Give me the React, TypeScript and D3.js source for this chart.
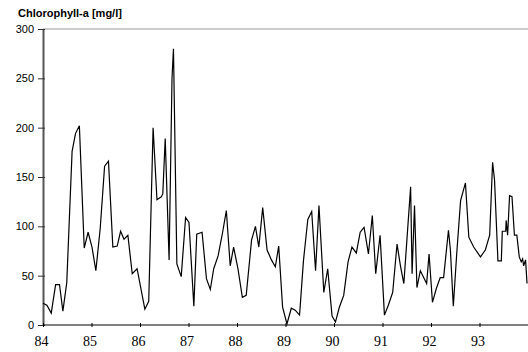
import React, { useRef, useEffect } from "react";
import * as d3 from "d3";

// time in decimal years (84 = 1984)
const years = [
  84.0, 84.08, 84.17, 84.26, 84.34, 84.41, 84.49, 84.6, 84.67, 84.75,
  84.85, 84.93, 85.01, 85.09, 85.18, 85.27, 85.35, 85.44, 85.53, 85.6,
  85.67, 85.75, 85.84, 85.94, 86.1, 86.18, 86.27, 86.35, 86.44, 86.47,
  86.52, 86.6, 86.66, 86.69, 86.76, 86.85, 86.94, 87.01, 87.11, 87.17,
  87.28, 87.37, 87.45, 87.52, 87.61, 87.7, 87.78, 87.86, 87.93, 88.02,
  88.11, 88.19, 88.3, 88.38, 88.45, 88.53, 88.62, 88.71, 88.79, 88.86,
  88.94, 89.03, 89.12, 89.2, 89.29, 89.37, 89.46, 89.54, 89.62, 89.69,
  89.79, 89.87, 89.96, 90.03, 90.11, 90.2, 90.29, 90.37, 90.46, 90.54,
  90.62, 90.71, 90.79, 90.86, 90.95, 91.04, 91.12, 91.21, 91.3, 91.37,
  91.44, 91.5, 91.58, 91.61, 91.66, 91.71, 91.78, 91.91, 91.96, 92.03,
  92.11, 92.19, 92.26, 92.36, 92.4, 92.46, 92.53, 92.61, 92.71, 92.78,
  92.88, 93.02, 93.12, 93.21, 93.27, 93.31, 93.38, 93.45, 93.47, 93.54,
  93.55, 93.58, 93.62, 93.67, 93.72, 93.77, 93.82, 93.86, 93.89, 93.91,
  93.95, 93.98,
];

const chlorophyll = [
  22, 20, 12, 41, 41, 14, 43, 176, 194, 202,
  78, 94, 79, 55, 98, 161, 166, 79, 80, 95,
  87, 91, 52, 57, 16, 24, 200, 127, 130, 133,
  189, 66, 250, 280, 62, 49, 109, 104, 19, 92,
  94, 47, 36, 57, 70, 93, 116, 60, 79, 57,
  28, 30, 86, 100, 79, 119, 76, 66, 59, 80,
  18, 1, 17, 15, 10, 65, 107, 115, 55, 121,
  33, 57, 9, 3, 18, 30, 64, 79, 73, 94,
  99, 72, 111, 52, 91, 10, 20, 33, 82, 60,
  42, 84, 140, 52, 121, 38, 55, 42, 72, 23,
  37, 48, 48, 96, 76, 19, 72, 126, 144, 89,
  79, 69, 76, 91, 165, 147, 65, 65, 95, 95,
  106, 91, 131, 130, 91, 91, 69, 64, 67, 60,
  66, 42,
];

const yTicks = [0, 50, 100, 150, 200, 250, 300];
const xTicks = [84, 85, 86, 87, 88, 89, 90, 91, 92, 93];

const App: React.FC = () => {
  const svgRef = useRef<SVGSVGElement>(null);
  const width = 528;
  const height = 352;

  useEffect(() => {
    if (!svgRef.current) return;
    const svg = d3.select(svgRef.current);
    svg.selectAll("*").remove();

    const margin = { top: 29, right: 0, bottom: 27, left: 43 };

    const x = d3
      .scaleLinear()
      .domain([84, 94])
      .range([margin.left, width - margin.right]);
    const y = d3
      .scaleLinear()
      .domain([0, 300])
      .range([height - margin.bottom, margin.top]);

    // title
    svg
      .append("text")
      .attr("x", 18)
      .attr("y", 17)
      .attr("font-family", "Arial, 'Liberation Sans', sans-serif")
      .attr("font-size", 11)
      .attr("font-weight", "bold")
      .text("Chlorophyll-a [mg/l]");

    // top frame line
    svg
      .append("line")
      .attr("x1", margin.left)
      .attr("x2", width)
      .attr("y1", y(300))
      .attr("y2", y(300))
      .attr("stroke", "#999")
      .attr("stroke-width", 1);

    // y axis
    const yAxis = svg
      .append("g")
      .attr("transform", `translate(${margin.left},0)`)
      .call(
        d3
          .axisLeft(y)
          .tickValues(yTicks)
          .tickSize(5)
          .tickPadding(4)
          .tickSizeOuter(0)
      );
    yAxis.select(".domain").attr("stroke", "#555").attr("stroke-width", 2);
    yAxis
      .selectAll(".tick line")
      .attr("stroke", "#333")
      .attr("x2", -5)
      .attr("x1", 2);
    yAxis
      .selectAll("text")
      .attr("font-family", "Arial, 'Liberation Sans', sans-serif")
      .attr("font-size", 11)
      .attr("fill", "#000");

    // x axis
    const xAxis = svg
      .append("g")
      .attr("transform", `translate(0,${y(0)})`)
      .call(
        d3
          .axisBottom(x)
          .tickValues(xTicks)
          .tickSize(2)
          .tickPadding(9)
          .tickSizeOuter(0)
      );
    xAxis
      .select(".domain")
      .attr("stroke", "#000")
      .attr("stroke-width", 1.2)
      .attr("d", `M${margin.left},0H${width}`);
    xAxis.selectAll(".tick line").attr("stroke", "#000").attr("y1", -2);
    xAxis
      .selectAll("text")
      .attr("font-family", "'Times New Roman', 'Liberation Serif', serif")
      .attr("font-size", 14)
      .attr("fill", "#000")
      .attr("dx", -2);

    // series
    const pts: [number, number][] = years.map((t, i) => [t, chlorophyll[i]]);
    const line = d3
      .line<[number, number]>()
      .x((d) => x(d[0]))
      .y((d) => y(d[1]));

    svg
      .append("path")
      .datum(pts)
      .attr("d", line)
      .attr("fill", "none")
      .attr("stroke", "#000")
      .attr("stroke-width", 1.2)
      .attr("stroke-linejoin", "miter");
  }, []);

  return (
    <svg
      ref={svgRef}
      width={width}
      height={height}
      style={{ position: "absolute", left: 0, top: 0, background: "#fff" }}
    ></svg>
  );
};

export default App;
